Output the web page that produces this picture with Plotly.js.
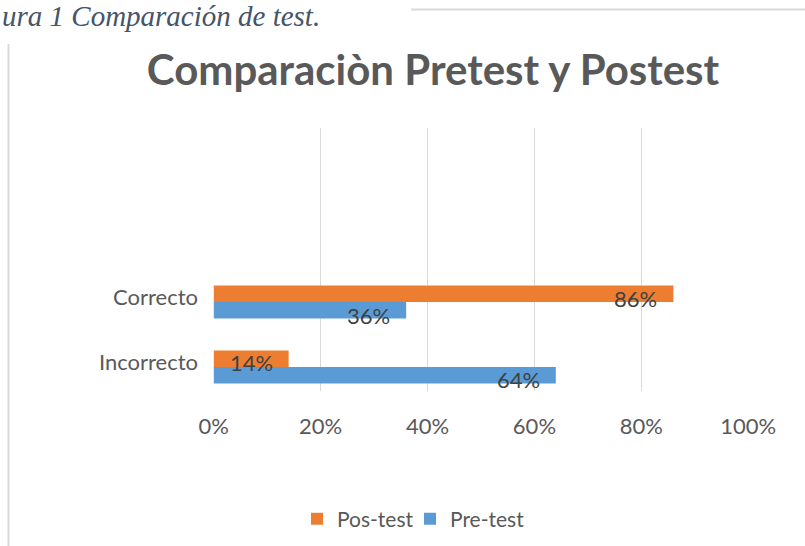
<!DOCTYPE html>
<html>
<head>
<meta charset="utf-8">
<script src="https://cdn.plot.ly/plotly-3.0.1.min.js"></script>
<style>
  html, body { margin: 0; padding: 0; background: #ffffff; }
  #chart { width: 805px; height: 546px; }
</style>
</head>
<body>
<div id="chart"></div>
<script>
// ---- data ----
const categories = ['Incorrecto', 'Correcto'];
const preTest = [64, 36];
const posTest = [14, 86];
const seriesNames = ['Pre-test', 'Pos-test'];
const xTickVals = [0, 20, 40, 60, 80, 100];
const xTickText = ['0%', '20%', '40%', '60%', '80%', '100%'];

// ---- style ----
const FONT = 'Lato, "Open Sans", sans-serif';
const colPre = '#5B9BD5';
const colPos = '#ED7D31';
const yPos = categories.map((c, i) => i);

// plot-area pixel geometry (for decorations drawn in paper coords)
const W = 805, H = 546;
const mL = 213, mR = 56, mT = 128, mB = 155;
const pw = W - mL - mR, ph = H - mT - mB;
const px = x => (x - mL) / pw;
const py = y => (H - mB - y) / ph;

const traces = [
  {
    type: 'bar', orientation: 'h', name: seriesNames[0],
    x: preTest, y: yPos, legend: 'legend2',
    marker: { color: colPre },
    hoverinfo: 'skip'
  },
  {
    type: 'bar', orientation: 'h', name: seriesNames[1],
    x: posTest, y: yPos, legend: 'legend',
    marker: { color: colPos },
    hoverinfo: 'skip'
  }
];

const annotations = [];
yPos.forEach((yv, i) => {
  annotations.push({
    x: posTest[i], y: yv, xref: 'x', yref: 'y',
    text: posTest[i] + '%', showarrow: false,
    xanchor: 'right', yanchor: 'middle', xshift: -14, yshift: 4,
    font: { family: FONT, size: 22, color: '#404040' }
  });
  annotations.push({
    x: preTest[i], y: yv, xref: 'x', yref: 'y',
    text: preTest[i] + '%', showarrow: false,
    xanchor: 'right', yanchor: 'middle', xshift: -14, yshift: -13,
    font: { family: FONT, size: 22, color: '#404040' }
  });
});
// caption (partially cut in the original)
annotations.push({
  xref: 'paper', yref: 'paper', x: px(0), y: py(16),
  xanchor: 'left', yanchor: 'middle', showarrow: false,
  text: '<i>ura 1 Comparación de test.</i>',
  font: { family: '"Liberation Serif", "DejaVu Serif", serif', size: 29, color: '#44546A' }
});

const legendBase = {
  orientation: 'h', xanchor: 'left', xref: 'container',
  y: 1 - 519 / H, yanchor: 'middle', yref: 'container',
  font: { family: FONT, size: 21, color: '#595959' },
  bgcolor: 'rgba(0,0,0,0)',
  itemclick: false, itemdoubleclick: false
};

const layout = {
  width: W, height: H,
  margin: { l: mL, r: mR, t: mT, b: mB, pad: 0 },
  paper_bgcolor: '#ffffff', plot_bgcolor: '#ffffff',
  font: { family: FONT, color: '#595959', size: 22 },
  title: {
    text: '<b>Comparaciòn Pretest y Postest</b>',
    font: { family: FONT, size: 42, color: '#595959' },
    x: 433 / W, xanchor: 'center', xref: 'container',
    y: 1 - 70 / H, yanchor: 'middle', yref: 'container'
  },
  barmode: 'group',
  bargap: 0.49,
  xaxis: {
    range: [-0.15, 100.15],
    tickvals: xTickVals, ticktext: xTickText,
    showgrid: true, gridcolor: '#d9d9d9', gridwidth: 1,
    zeroline: false, showline: false,
    ticks: '', ticklabelstandoff: 20,
    tickfont: { family: FONT, size: 22, color: '#595959' },
    fixedrange: true
  },
  yaxis: {
    range: [-0.37, 3.68],
    tickvals: yPos, ticktext: categories,
    showgrid: false, zeroline: false, showline: false,
    ticks: '', ticklabelstandoff: 14, ticklabelshift: -5,
    tickfont: { family: FONT, size: 22, color: '#595959' },
    fixedrange: true
  },
  showlegend: true,
  legend: Object.assign({}, legendBase, { x: 297 / W }),
  legend2: Object.assign({}, legendBase, { x: 410 / W }),
  annotations: annotations,
  shapes: [
    { type: 'line', xref: 'paper', yref: 'paper',
      x0: px(8.5), x1: px(8.5), y0: py(44), y1: py(546),
      line: { color: '#d9d9d9', width: 2 } },
    { type: 'line', xref: 'paper', yref: 'paper',
      x0: px(411), x1: px(805), y0: py(9.5), y1: py(9.5),
      line: { color: '#d9d9d9', width: 2 } }
  ]
};

Plotly.newPlot('chart', traces, layout, { displayModeBar: false, staticPlot: true });
</script>
</body>
</html>
